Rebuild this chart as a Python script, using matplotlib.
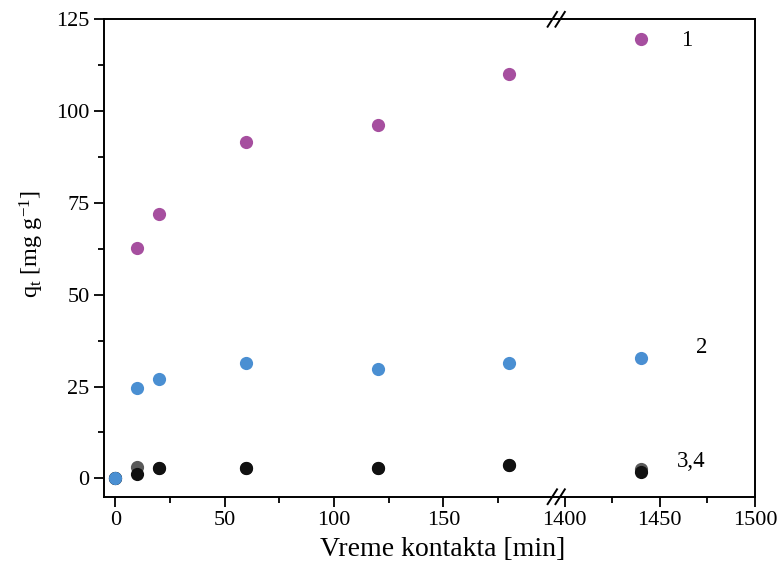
import numpy as np
import matplotlib
matplotlib.use('Agg')
import matplotlib.pyplot as plt
from matplotlib.ticker import MultipleLocator, FixedLocator

plt.rcParams['font.family'] = 'Liberation Serif'
plt.rcParams['mathtext.fontset'] = 'custom'
plt.rcParams['mathtext.rm'] = 'Liberation Serif'
plt.rcParams['mathtext.it'] = 'Liberation Serif'

# data
t = [0, 10, 20, 60, 120, 180, 1440]
q1 = [None, 62.7, 72.1, 91.6, 96.3, 110.1, 119.6]
q2 = [0.0, 24.6, 27.1, 31.5, 29.8, 31.5, 32.7]
q3 = [0.0, 3.0, 2.7, 2.7, 2.8, 3.6, 2.6]
q4 = [0.0, 1.2, 2.8, 2.8, 2.8, 3.6, 1.8]

series = [(q3, '#5a5a5a'), (q4, '#111111'), (q2, '#4a8fd2'), (q1, '#a64f9f')]

fig = plt.figure(figsize=(7.82, 5.68), dpi=100)
bot, top = 0.1255, 0.966
left, brk, right = 0.1334, 0.7123, 0.9655
ax1 = fig.add_axes([left, bot, brk - left, top - bot])
ax2 = fig.add_axes([brk, bot, right - brk, top - bot], sharey=ax1)

for ax in (ax1, ax2):
    for q, c in series:
        xs = [x for x, v in zip(t, q) if v is not None]
        ys = [v for v in q if v is not None]
        ax.plot(xs, ys, 'o', color=c, markersize=9.5, markeredgewidth=0)
    for s in ax.spines.values():
        s.set_linewidth(1.4)
    ax.tick_params(which='major', direction='out', length=7, width=1.3, labelsize=16)
    ax.tick_params(which='minor', direction='out', length=4, width=1.3)

ax1.set_xlim(-5, 202)
ax2.set_xlim(1396, 1500)
ax1.set_ylim(-5, 125)

ax1.xaxis.set_major_locator(FixedLocator([0, 50, 100, 150]))
ax1.xaxis.set_minor_locator(FixedLocator([25, 75, 125, 175]))
ax2.xaxis.set_major_locator(FixedLocator([1400, 1450, 1500]))
ax2.xaxis.set_minor_locator(FixedLocator([1425, 1475]))
ax1.yaxis.set_major_locator(MultipleLocator(25))
ax1.yaxis.set_minor_locator(FixedLocator([12.5, 37.5, 62.5, 87.5, 112.5]))

ax1.spines['right'].set_visible(False)
ax2.spines['left'].set_visible(False)
ax2.tick_params(axis='y', which='both', left=False, labelleft=False)

# series labels
ax2.text(1461, 119.3, '1', fontsize=16.5, va='center', ha='left')
ax2.text(1469, 35.5, '2', fontsize=16.5, va='center', ha='left')
ax2.text(1459, 4.6, '3,4', fontsize=16.5, va='center', ha='left')

# break marks
for yy in (top, bot):
    for dx in (-0.006, 0.004):
        fig.add_artist(plt.Line2D([brk + dx - 0.006, brk + dx + 0.006],
                                  [yy - 0.013, yy + 0.013],
                                  color='k', lw=1.4, transform=fig.transFigure))

fig.text(443 / 782, 1 - 550 / 568, 'Vreme kontakta [min]', fontsize=20,
         ha='center', va='center')
fig.text(32 / 782, 1 - 244 / 568, r'q$_\mathrm{t}$ [mg g$^{\mathrm{-1}}$]',
         fontsize=17.5, rotation=90, ha='center', va='center')

fig.savefig('out.png', dpi=100)
